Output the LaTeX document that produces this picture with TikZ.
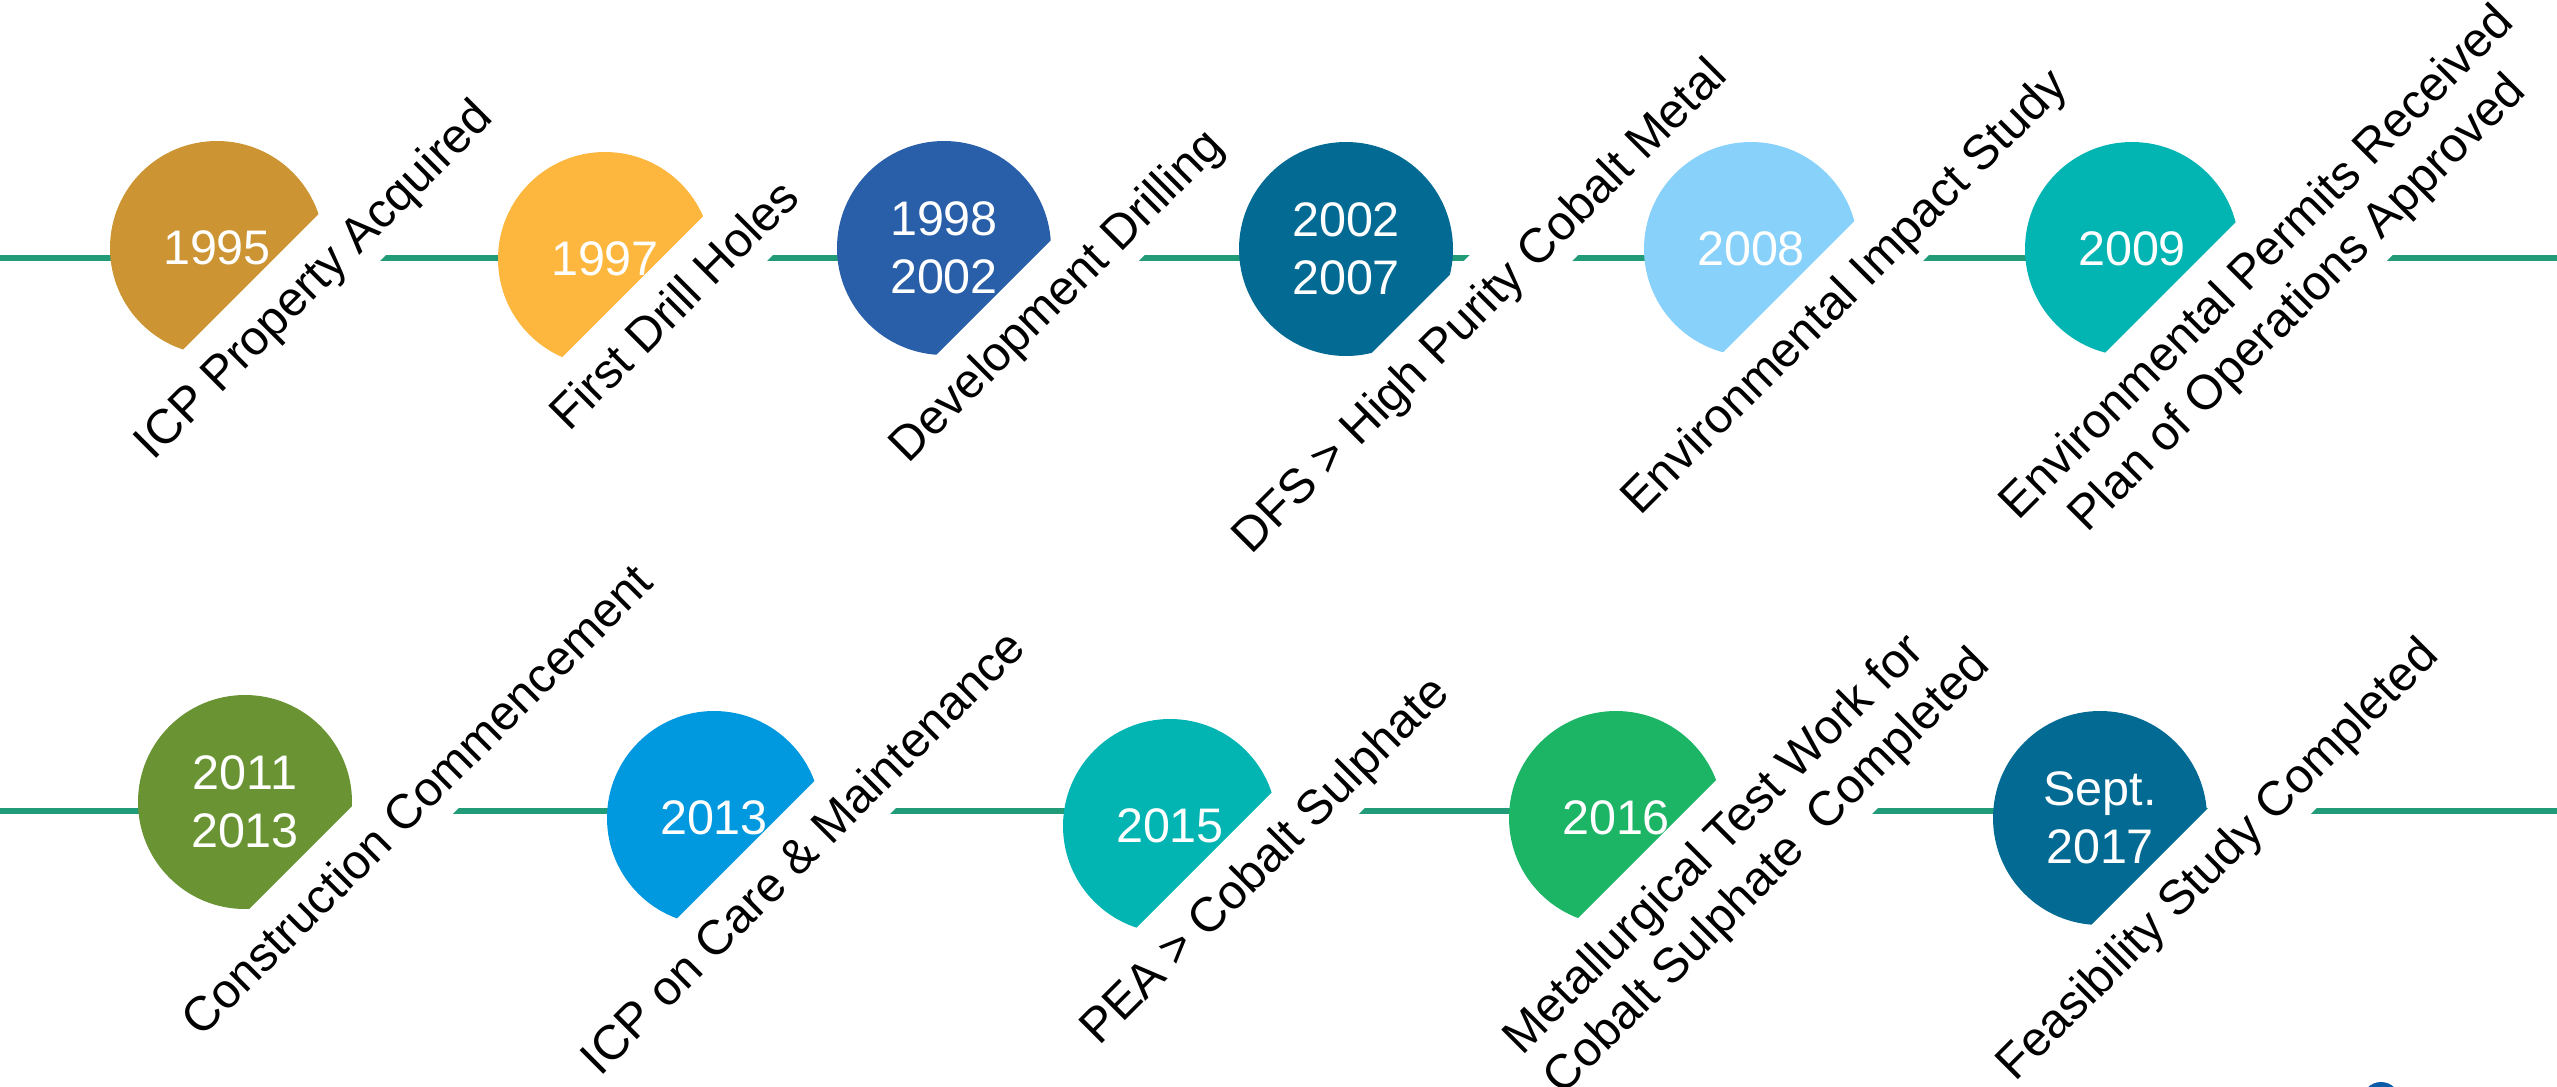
\documentclass[tikz,border=0pt]{standalone}
\usepackage{fontspec}
\setmainfont{Liberation Sans}
\definecolor{linegreen}{HTML}{229C78}
\definecolor{cA}{HTML}{CC9433}
\definecolor{cB}{HTML}{FDB73E}
\definecolor{cC}{HTML}{295EA8}
\definecolor{cD}{HTML}{036A94}
\definecolor{cE}{HTML}{87D1FB}
\definecolor{cF}{HTML}{02B4B2}
\definecolor{cG}{HTML}{6A9433}
\definecolor{cH}{HTML}{0098DE}
\definecolor{cI}{HTML}{1CB565}
\definecolor{logoblue}{HTML}{0B5CA8}
\begin{document}
\begin{tikzpicture}[x=1pt,y=-1pt,
  yearball/.style={circle, inner sep=0pt, minimum size=214pt, text=white, align=center,
    font=\fontsize{48.5pt}{57.5pt}\selectfont},
  lab/.style={fill=white, rotate=45, anchor=north, inner xsep=4pt, inner ysep=0pt,
    text height=58pt, text depth=18.5pt, font=\fontsize{48.5pt}{57.5pt}\selectfont},
  labtwo/.style={lab, text height=115.5pt},
  tline/.style={draw=linegreen, line width=6pt}]
\useasboundingbox (0,0) rectangle (2557,1087);
\clip (0,0) rectangle (2557,1087);
% timelines
\coordinate (T0) at (0,258);  \coordinate (T1) at (2557,258);
\coordinate (B0) at (0,811);  \coordinate (B1) at (2557,811);
\draw[tline] (T0) -- (T1);
\draw[tline] (B0) -- (B1);
% year balls
\node[yearball, fill=cA] (y1) at (217,248) {1995};
\node[yearball, fill=cB] (y2) at (605,259) {1997};
\node[yearball, fill=cC] (y3) at (944,248) {1998\\2002};
\node[yearball, fill=cD] (y4) at (1346,249) {2002\\2007};
\node[yearball, fill=cE] (y5) at (1751,249) {2008};
\node[yearball, fill=cF] (y6) at (2132,249) {2009};
\node[yearball, fill=cG] (y7) at (245,802) {2011\\2013};
\node[yearball, fill=cH] (y8) at (714,818) {2013};
\node[yearball, fill=cF] (y9) at (1170,826) {2015};
\node[yearball, fill=cI] (y10) at (1616,818) {2016};
\node[yearball, fill=cD] (y11) at (2100,818) {Sept.\\2017};
% labels
\node[lab] (l1) at (283.2,249.3) {ICP Property Acquired};
\node[lab] (l2) at (644.2,275.1) {First Drill Holes};
\node[lab] (l3) at (1026.0,265.2) {Development Drilling};
\node[lab] (l4) at (1449.2,275.4) {DFS > High Purity Cobalt Metal};
\node[lab] (l5) at (1814.1,261.3) {Environmental Impact Study};
\node[labtwo] (l6) at (2226.0,231.9) {\begin{tabular}[b]{@{}c@{}}Environmental Permits Received\\Plan of Operations Approved\end{tabular}};
\node[lab] (l7) at (387.5,770.7) {Construction Commencement};
\node[lab] (l8) at (772.9,822.4) {ICP on Care \& Maintenance};
\node[lab] (l9) at (1234.3,829.8) {PEA > Cobalt Sulphate};
\node[labtwo] (l10) at (1695.6,800.4) {\begin{tabular}[b]{@{}l@{}}Metallurgical Test Work for\\Cobalt Sulphate\ \ Completed\end{tabular}};
\node[lab] (l11) at (2186.9,829.2) {Feasibility Study Completed};
% cut-off logo at the bottom edge
\fill[logoblue] (2381,1101) circle (19);
\fill[logoblue] (2478,1094) circle (7);
\end{tikzpicture}
\end{document}
